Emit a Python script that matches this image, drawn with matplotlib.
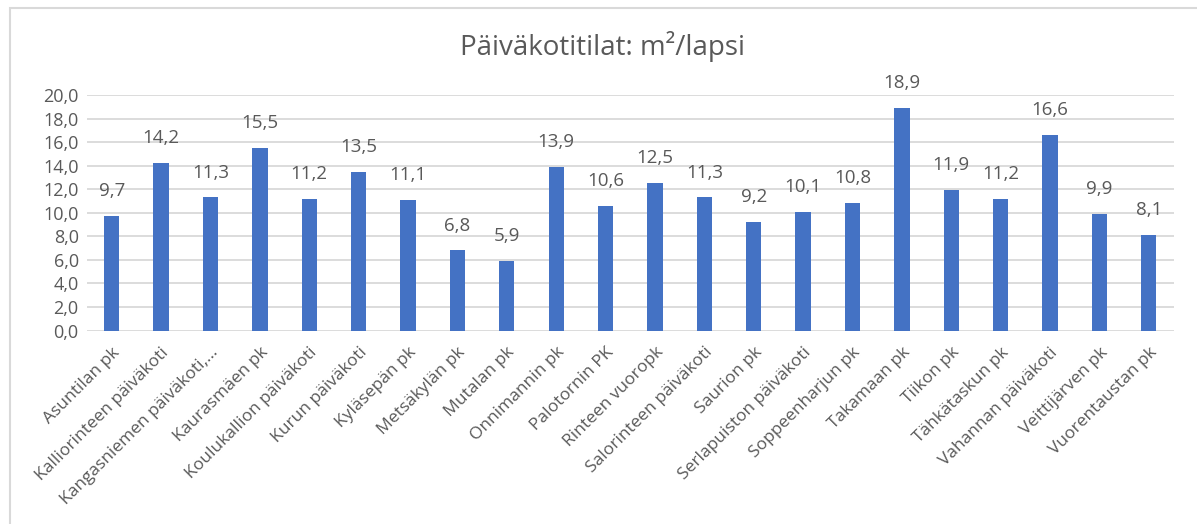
import matplotlib.pyplot as plt
from matplotlib.patches import Rectangle

categories = [
    'Asuntilan pk', 'Kalliorinteen päiväkoti', 'Kangasniemen päiväkoti,...',
    'Kaurasmäen pk', 'Koulukallion päiväkoti', 'Kurun päiväkoti',
    'Kyläsepän pk', 'Metsäkylän pk', 'Mutalan pk', 'Onnimannin pk',
    'Palotornin PK', 'Rinteen vuoropk', 'Salorinteen päiväkoti',
    'Saurion pk', 'Serlapuiston päiväkoti', 'Soppeenharjun pk',
    'Takamaan pk', 'Tiikon pk', 'Tähkätaskun pk', 'Vahannan päiväkoti',
    'Veittijärven pk', 'Vuorentaustan pk'
]
values = [9.7, 14.2, 11.3, 15.5, 11.2, 13.5, 11.1, 6.8, 5.9, 13.9, 10.6,
          12.5, 11.3, 9.2, 10.1, 10.8, 18.9, 11.9, 11.2, 16.6, 9.9, 8.1]
yticks = [0, 2, 4, 6, 8, 10, 12, 14, 16, 18, 20]

plt.rcParams['font.family'] = ['Open Sans', 'DejaVu Sans']
gray = '#595959'

fig = plt.figure(figsize=(11.97, 5.24), dpi=100)
W, H = 1197, 524
ax = fig.add_axes([87 / W, 1 - 330.5 / H, (1173.5 - 87) / W, (330.5 - 95) / H])

x = range(len(categories))
ax.bar(x, values, width=0.31, color='#4472C4', zorder=3)
for xi, v in zip(x, values):
    ax.text(xi, v + 1.35, f'{v:.1f}'.replace('.', ','), ha='center', va='bottom',
            fontsize=13.5, color=gray)

ax.set_xlim(-0.5, len(categories) - 0.5)
ax.set_ylim(0, 20)
ax.set_yticks(yticks)
ax.set_yticklabels([f'{t:.1f}'.replace('.', ',') for t in yticks], fontsize=13, color=gray)
ax.set_xticks(list(x))
ax.set_xticklabels(categories, rotation=45, ha='right', rotation_mode='anchor',
                   fontsize=12.5, color=gray)
ax.tick_params(length=0, pad=6)
ax.tick_params(axis='x', pad=10)
ax.grid(axis='y', color='#D9D9D9', linewidth=1.3, zorder=0)
for s in ax.spines.values():
    s.set_visible(False)

fig.text(603 / W, 1 - 47 / H, 'Päiväkotitilat: m²/lapsi', ha='center', va='center',
         fontsize=20, color=gray)

fig.patches.append(Rectangle((10 / W, -0.1), 1.2, 1 - 8 / H + 0.1, transform=fig.transFigure,
                             fill=False, edgecolor='#D9D9D9', linewidth=1.5))

fig.savefig('out.png', dpi=100)
